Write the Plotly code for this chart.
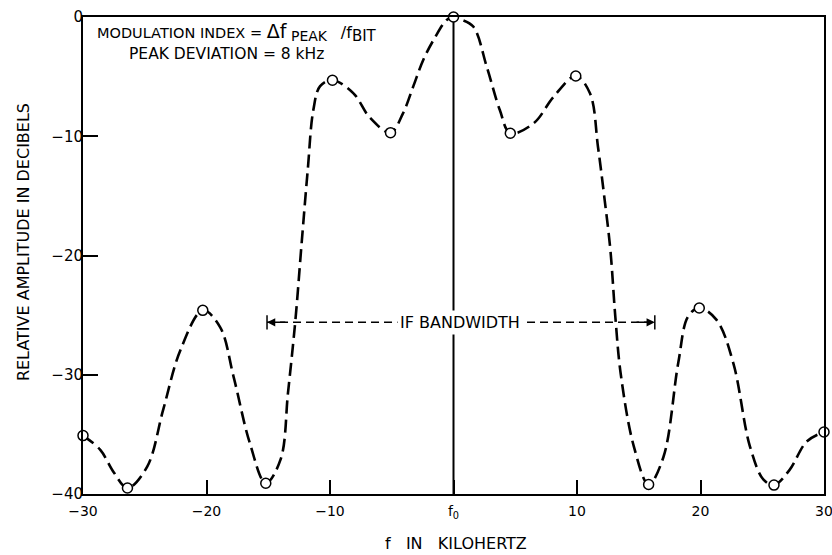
import plotly.graph_objects as go

# Spectrum trace (frequency offset in kHz, relative amplitude in dB)
curve_f = [-30, -28.6, -27.5, -26.4, -24.8, -23.5, -22.1, -20.3, -18.9, -17.8,
           -16.5, -15.2, -14.0, -13.4, -12.8, -12.3, -11.8, -11.35, -10.8, -9.8,
           -8.1, -6.8, -5.1, -4.1, -3.25, -2.45, -1.6, -0.55, 0, 0.6, 1.6, 2.7,
           3.75, 4.6, 6.5, 8.1, 9.9, 11.05, 11.7, 12.2, 12.7, 13.1, 13.55, 14.6,
           15.8, 17.0, 18.2, 19.0, 19.9, 21.3, 22.65, 24.0, 25.1, 25.95, 27.2,
           28.6, 30]
curve_db = [-35.1, -36.3, -38.2, -39.5, -37.7, -32.9, -27.9, -24.6, -26.0, -30.2,
            -35.7, -39.1, -37.1, -31.5, -25.4, -19.0, -12.8, -7.8, -5.8, -5.3,
            -6.4, -8.4, -9.7, -8.1, -5.8, -3.6, -1.9, -0.25, 0, -0.2, -0.8, -4.2,
            -7.8, -9.75, -8.9, -6.7, -4.95, -6.4, -10.9, -15.0, -19.5, -25.1, -30.0, -36.0,
            -39.2, -36.9, -29.0, -25.1, -24.4, -25.4, -29.0, -36.0, -38.8, -39.25, -38.0,
            -35.6, -34.8]

# Computed sample points marked with open circles
marker_f = [-30, -26.4, -20.3, -15.2, -9.8, -5.1, 0, 4.6, 9.9, 15.8, 19.9, 25.95, 30]
marker_db = [-35.1, -39.5, -24.6, -39.1, -5.3, -9.7, 0, -9.75, -4.95, -39.2, -24.4, -39.25, -34.8]

# IF bandwidth span
if_band = [-15.1, 16.3]
if_level = -25.6

x_tickvals = [-30, -20, -10, 0, 10, 20, 30]
x_ticktext = ["\u221230", "\u221220", "\u221210", "f<sub>0</sub>", "10", "20", "30"]
y_tickvals = [0, -10, -20, -30, -40]
y_ticktext = ["0", "\u221210", "\u221220", "\u221230", "\u221240"]

FONT = "DejaVu Sans, Liberation Sans, sans-serif"
NB = "\u00a0"

fig = go.Figure()

fig.add_trace(go.Scatter(
    x=curve_f, y=curve_db, mode="lines",
    line=dict(color="black", width=2.6, dash="13px,6px", shape="spline", smoothing=1.0),
    cliponaxis=False, hoverinfo="skip", showlegend=False,
))
fig.add_trace(go.Scatter(
    x=marker_f, y=marker_db, mode="markers",
    marker=dict(symbol="circle", size=10, color="white", line=dict(color="black", width=1.5)),
    cliponaxis=False, showlegend=False,
))

# Carrier line at f0
fig.add_shape(type="line", x0=0, x1=0, y0=-40, y1=0, xref="x", yref="y",
              line=dict(color="black", width=2), layer="below")

# IF bandwidth dimension line
fig.add_shape(type="line", x0=if_band[0], x1=if_band[1], y0=if_level, y1=if_level,
              xref="x", yref="y", line=dict(color="black", width=1.5, dash="8px,5px"))
for xe in if_band:
    fig.add_shape(type="line", x0=xe, x1=xe, y0=if_level - 0.6, y1=if_level + 0.6,
                  xref="x", yref="y", line=dict(color="black", width=1.5))
fig.add_annotation(x=if_band[0], y=if_level, ax=if_band[0] + 1.6, ay=if_level,
                   xref="x", yref="y", axref="x", ayref="y", text="",
                   showarrow=True, arrowhead=2, arrowsize=1.1, arrowwidth=1.5, arrowcolor="black")
fig.add_annotation(x=if_band[1], y=if_level, ax=if_band[1] - 1.6, ay=if_level,
                   xref="x", yref="y", axref="x", ayref="y", text="",
                   showarrow=True, arrowhead=2, arrowsize=1.1, arrowwidth=1.5, arrowcolor="black")
fig.add_annotation(x=0.5, y=if_level, xref="x", yref="y", text="IF BANDWIDTH",
                   showarrow=False, bgcolor="white", borderpad=2,
                   font=dict(family=FONT, size=16, color="black"))

# Notes in the upper left
sub = "<sub><span style='font-size:{}px'>{}</span></sub>"
fig.add_annotation(x=-29.0, y=-1.3, xref="x", yref="y", xanchor="left", yanchor="middle",
                   text="MODULATION INDEX = <span style='font-size:19px'>\u0394f</span>"
                        + NB + sub.format(14, "PEAK") + NB * 3
                        + "<span style='font-size:16px'>/f</span>"
                        + sub.format(15, "BIT"),
                   showarrow=False, font=dict(family=FONT, size=14.5, color="black"))
fig.add_annotation(x=-26.44, y=-3.1, xref="x", yref="y", xanchor="left", yanchor="middle",
                   text="PEAK DEVIATION = 8 kHz",
                   showarrow=False, font=dict(family=FONT, size=15.5, color="black"))

# Axis titles
gap = NB * 3
fig.add_annotation(x=0.2, y=-0.103, xref="x", yref="paper", xanchor="center", yanchor="middle",
                   text=f"f{gap}IN{gap}KILOHERTZ", showarrow=False,
                   font=dict(family=FONT, size=16, color="black"))
fig.add_annotation(x=-0.081, y=0.528, xref="paper", yref="paper", xanchor="center", yanchor="middle",
                   text="RELATIVE AMPLITUDE IN DECIBELS", textangle=-90, showarrow=False,
                   font=dict(family=FONT, size=16, color="black"))

fig.update_xaxes(
    range=[-30, 30], tickvals=x_tickvals, ticktext=x_ticktext,
    ticks="inside", ticklen=14, tickwidth=1.5, tickcolor="black",
    showline=True, linecolor="black", linewidth=2, mirror=True,
    showgrid=False, zeroline=False, automargin=False, ticklabeloverflow="allow",
    ticklabelstandoff=3,
    tickfont=dict(family=FONT, size=14, color="black"),
)
fig.update_yaxes(
    range=[-40, 0], tickvals=y_tickvals, ticktext=y_ticktext,
    ticks="inside", ticklen=15, tickwidth=1.5, tickcolor="black",
    showline=True, linecolor="black", linewidth=2, mirror=True,
    showgrid=False, zeroline=False, automargin=False, ticklabelstandoff=-5,
    ticklabeloverflow="allow",
    tickfont=dict(family=FONT, size=15, color="black"),
)

fig.update_layout(
    width=832, height=555,
    margin=dict(l=83, r=8, t=17, b=61),
    paper_bgcolor="white", plot_bgcolor="white",
    showlegend=False,
)

fig.write_html("out.html")
